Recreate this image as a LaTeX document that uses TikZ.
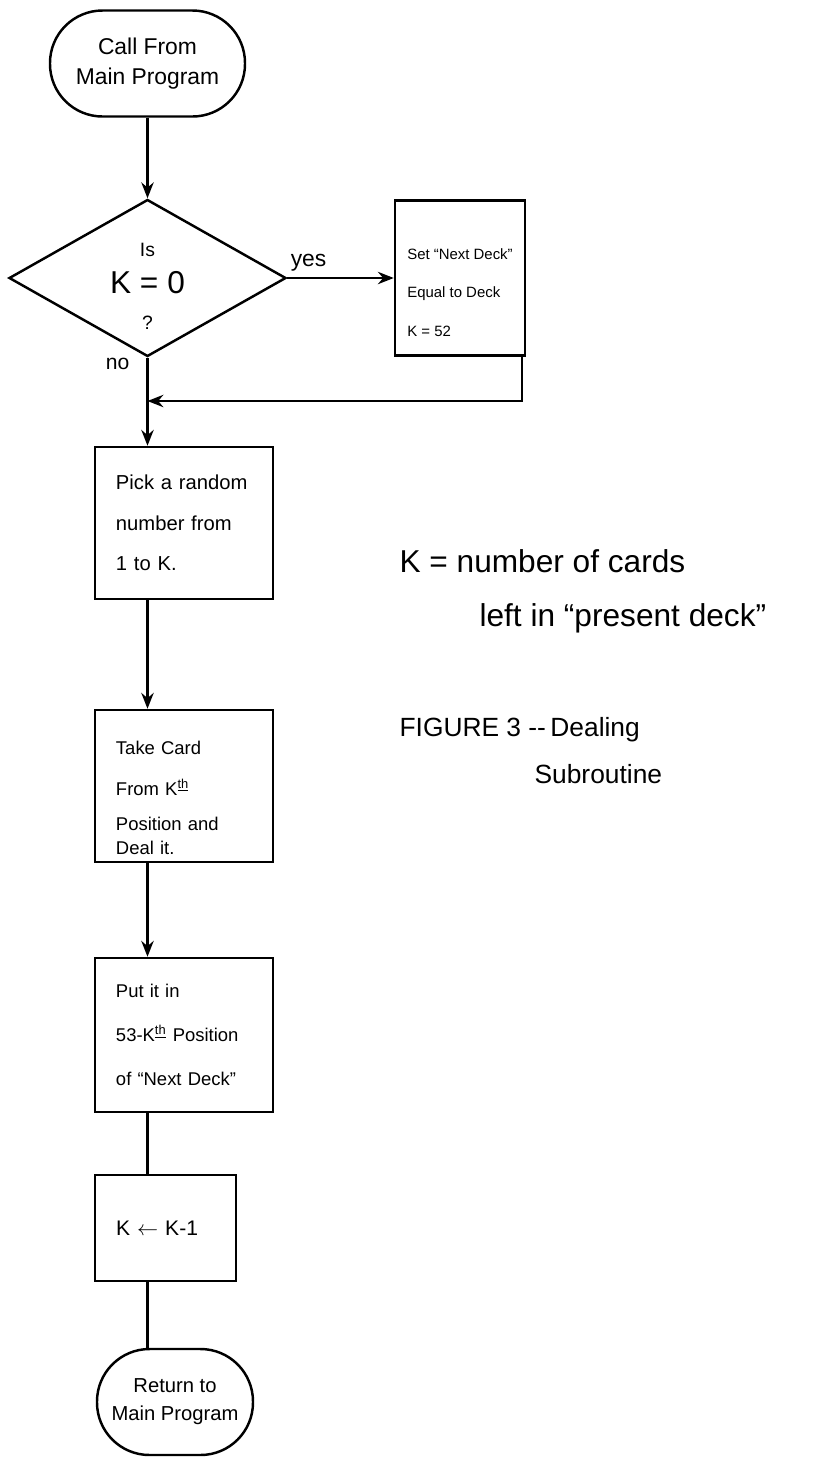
\documentclass[tikz,border=0pt]{standalone}
\usepackage{fontspec}
\setmainfont{Liberation Sans}
\usetikzlibrary{positioning,shapes,arrows.meta}

\begin{document}
\begin{tikzpicture}[line width=1.4pt, >={Stealth[length=9pt,width=7pt]},
    every node/.style={align=left, font=\fontsize{11}{22}\selectfont},
    box/.style={draw, rectangle, inner ysep=0pt, inner xsep=0.42cm, text width=2.72cm,
      minimum width=3.56cm, minimum height=3.04cm},
    term/.style={draw, rectangle, rounded corners=1.05cm, align=center, inner sep=0pt,
      minimum height=2.12cm},
    note/.style={anchor=north west, font=\fontsize{15}{27}\selectfont}]
    \useasboundingbox (0,0) rectangle (16.5,-29.14);

    \node[term, minimum width=3.9cm, font=\fontsize{13}{17}\selectfont] (call) at (2.95,-1.27) {Call From\\Main Program};
    \node[draw, diamond, shape aspect=1.76, inner sep=0pt, minimum width=5.54cm, minimum height=3.14cm,
      align=center, font=\fontsize{11}{21}\selectfont] (isk) at (2.95,-5.56)
      {\rule{0pt}{0.6cm}Is\\{\fontsize{18}{18}\selectfont K = 0}\\?};
    \node[draw, rectangle, inner sep=0pt, minimum width=2.6cm, minimum height=3.1cm,
      font=\fontsize{8.5}{22}\selectfont] (setdeck) at (9.2,-5.56)
      {\rule{0pt}{0.8cm}Set ``Next Deck''\\Equal to Deck\\K = 52};
    \coordinate (spine) at (isk.south);
    \coordinate (join) at (spine |- 0,-8.02);

    \node[box, font=\fontsize{11.5}{23}\selectfont] (pick) at (3.68,-10.46) {Pick a random\\number from\\1 to K.};
    \node[box, font=\fontsize{10.5}{23}\selectfont] (take) at (3.68,-15.72)
      {\rule{0pt}{0.75cm}Take Card\\From K\textsuperscript{\underline{th}}\\[-3pt]Position and\\[-9pt]Deal it.};
    \node[box, minimum height=3.08cm, font=\fontsize{10.5}{25}\selectfont] (put) at (3.68,-20.70)
      {Put it in\\53-K\textsuperscript{\underline{th}} Position\\of ``Next Deck''};
    \node[box, minimum width=2.82cm, minimum height=2.12cm, text width=1.98cm,
      font=\fontsize{12}{14}\selectfont] (dec) at (3.31,-24.56) {K $\leftarrow$ K-1};
    \node[term, minimum width=3.12cm, font=\fontsize{11.5}{16}\selectfont] (ret) at (3.5,-28.04) {Return to\\Main Program};

    \node[anchor=east, font=\fontsize{12}{14}\selectfont] (no) at ([xshift=-0.22cm,yshift=-0.12cm]isk.south) {no};

    \path[->] (call) edge (isk);
    \path[->] (isk) edge node[above, pos=0.2, font=\fontsize{13}{14}\selectfont] {yes} (setdeck);
    \draw[->] ([xshift=-0.08cm]setdeck.south east) |- (join);
    \draw[->] (spine) -- (spine |- pick.north);
    \draw[->] (pick.south -| spine) -- (take.north -| spine);
    \draw[->] (take.south -| spine) -- (put.north -| spine);
    \draw (put.south -| spine) -- (dec.north -| spine);
    \draw (dec.south -| spine) -- (ret.north -| spine);

    \node[note, font=\fontsize{18}{31}\selectfont] (kdef) at (7.85,-10.85) {K = number of cards\\\hspace*{1.6cm}left in ``present deck''};
    \node[note] (fig) at (7.85,-14.2) {FIGURE 3 -{}-\,Dealing\\\hspace*{2.7cm}Subroutine};
\end{tikzpicture}
\end{document}
